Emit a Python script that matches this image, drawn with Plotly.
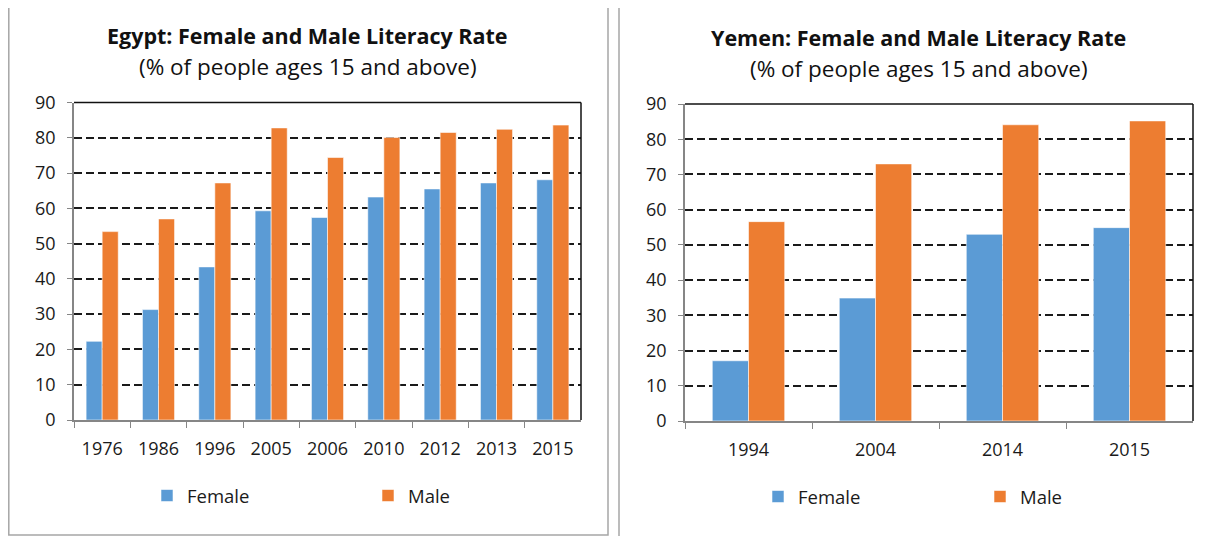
import plotly.graph_objects as go

# Egypt data (% of people ages 15 and above)
egypt_years = ["1976", "1986", "1996", "2005", "2006", "2010", "2012", "2013", "2015"]
egypt_female = [22.3, 31.3, 43.4, 59.3, 57.4, 63.2, 65.5, 67.2, 68.1]
egypt_male = [53.4, 57.0, 67.2, 82.8, 74.4, 80.1, 81.5, 82.4, 83.6]

# Yemen data
yemen_years = ["1994", "2004", "2014", "2015"]
yemen_female = [17.1, 34.9, 53.0, 54.9]
yemen_male = [56.6, 73.0, 84.1, 85.2]

y_ticks = list(range(0, 100, 10))

# page body has an 8px margin, so the figure is drawn 8px in from the corner
OFF = 8
W, H = 1213 - OFF, 536 - OFF
BLUE = "#5B9BD5"
ORANGE = "#ED7D31"
FONT = "Open Sans"


def px_x(p):
    return (p - OFF) / W


def px_y(p):
    return 1 - (p - OFF) / H


fig = go.Figure()

edge = dict(color="rgba(255,255,255,0.7)", width=0.8)
# Egypt
fig.add_trace(go.Bar(x=egypt_years, y=egypt_female, name="Female", marker_color=BLUE,
                     marker_line=edge, xaxis="x", yaxis="y", legend="legend"))
fig.add_trace(go.Bar(x=egypt_years, y=egypt_male, name="Male", marker_color=ORANGE,
                     marker_line=edge, xaxis="x", yaxis="y", legend="legend"))
# Yemen
fig.add_trace(go.Bar(x=yemen_years, y=yemen_female, name="Female", marker_color=BLUE,
                     marker_line=edge, xaxis="x2", yaxis="y2", legend="legend2"))
fig.add_trace(go.Bar(x=yemen_years, y=yemen_male, name="Male", marker_color=ORANGE,
                     marker_line=edge, xaxis="x2", yaxis="y2", legend="legend2"))

axis_gray = "#868686"
xcommon = dict(type="category", showgrid=False, showline=True, linecolor=axis_gray, linewidth=1.5,
               ticks="outside", tickson="boundaries", ticklen=6, tickcolor=axis_gray,
               ticklabelstandoff=12,
               tickfont=dict(size=18, color="#1a1a1a", family=FONT), fixedrange=True)
ycommon = dict(range=[0, 90], tickvals=y_ticks, showgrid=True, gridcolor="#1a1a1a",
               griddash="8px,4px", gridwidth=1.5, showline=True, linecolor=axis_gray,
               linewidth=1.5, ticks="outside", ticklen=5, tickcolor=axis_gray,
               ticklabelstandoff=8,
               tickfont=dict(size=18, color="#1a1a1a", family=FONT), zeroline=False,
               fixedrange=True)

eg_dom_x = [px_x(74), px_x(581)]
eg_dom_y = [px_y(420), px_y(102.5)]
ye_dom_x = [px_x(685), px_x(1193)]
ye_dom_y = [px_y(421), px_y(104)]

fig.update_layout(
    width=W, height=H,
    margin=dict(l=0, r=0, t=0, b=0, autoexpand=False),
    paper_bgcolor="white", plot_bgcolor="white",
    barmode="group", bargap=0.43, bargroupgap=0,
    font=dict(family=FONT, color="#1a1a1a"),
    xaxis=dict(domain=eg_dom_x, anchor="y", **xcommon),
    yaxis=dict(domain=eg_dom_y, anchor="x", **ycommon),
    xaxis2=dict(domain=ye_dom_x, anchor="y2", **xcommon),
    yaxis2=dict(domain=ye_dom_y, anchor="x2", **ycommon),
    legend=dict(orientation="h", x=px_x(147), y=px_y(496), xanchor="left", yanchor="middle",
                entrywidth=176, entrywidthmode="pixels", itemwidth=30,
                font=dict(size=18.5, family=FONT, color="#1a1a1a"), bgcolor="rgba(0,0,0,0)"),
    legend2=dict(orientation="h", x=px_x(758), y=px_y(497), xanchor="left", yanchor="middle",
                 entrywidth=177, entrywidthmode="pixels", itemwidth=30,
                 font=dict(size=18.5, family=FONT, color="#1a1a1a"), bgcolor="rgba(0,0,0,0)"),
)

# titles
titles = [
    ("<b>Egypt: Female and Male Literacy Rate</b>", 307.5, 36, 21.5),
    ("(% of people ages 15 and above)", 307.5, 67, 22.5),
    ("<b>Yemen: Female and Male Literacy Rate</b>", 918, 37, 21.5),
    ("(% of people ages 15 and above)", 919, 68, 22.5),
]
for text, cx, cy, size in titles:
    fig.add_annotation(text=text, x=px_x(cx), y=px_y(cy), xref="paper", yref="paper",
                       showarrow=False, xanchor="center", yanchor="middle",
                       font=dict(size=size, family=FONT, color="#111"))

# chart frames
box_gray = "#A6A6A6"
fig.add_shape(type="rect", xref="paper", yref="paper", x0=px_x(8.8), x1=px_x(608),
              y0=px_y(535), y1=px_y(5.5), line=dict(color=box_gray, width=1.5))
fig.add_shape(type="rect", xref="paper", yref="paper", x0=px_x(619), x1=px_x(1240),
              y0=px_y(560), y1=px_y(6), line=dict(color=box_gray, width=1.5))

# plot-area top and right borders (black)
for dx, dy in [(eg_dom_x, eg_dom_y), (ye_dom_x, ye_dom_y)]:
    fig.add_shape(type="line", xref="paper", yref="paper", x0=dx[0], x1=dx[1],
                  y0=dy[1], y1=dy[1], line=dict(color="#111", width=1.5))
    fig.add_shape(type="line", xref="paper", yref="paper", x0=dx[1], x1=dx[1],
                  y0=dy[0], y1=dy[1], line=dict(color="#111", width=1.5))

fig.write_html("out.html", config={"displayModeBar": False})
